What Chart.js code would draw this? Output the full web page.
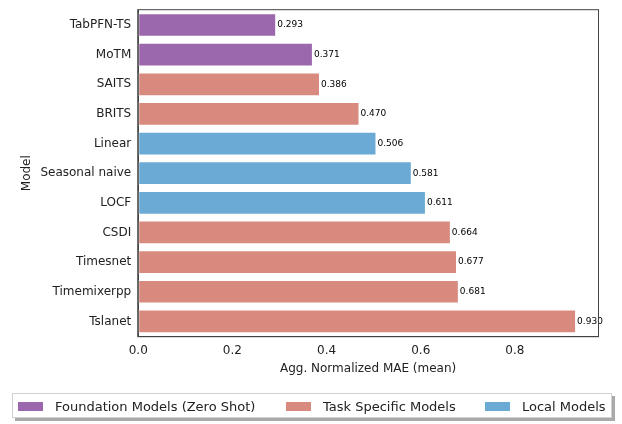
<!DOCTYPE html>
<html>
<head>
<meta charset="utf-8">
<script src="https://cdn.jsdelivr.net/npm/chart.js@4"></script>
<style>
  html, body { margin: 0; padding: 0; background: #fff; }
  #wrap { position: relative; width: 622px; height: 424px; }
  #legend {
    position: absolute; left: 12px; top: 393px; width: 598px; height: 23px;
    border: 1px solid #d0d0d0; background: #fff; box-shadow: 3px 3px 0 #aaa;
    display: flex; align-items: center;
    font-family: 'DejaVu Sans', sans-serif; font-size: 13px; color: #222;
  }
  #legend .item { display: flex; align-items: center; position: absolute; top: 5px; }
  #legend .box { width: 25px; height: 9px; margin-right: 12px; }
</style>
</head>
<body>
<div id="wrap">
  <canvas id="c" width="622" height="424"></canvas>
  <div id="legend"></div>
</div>
<script>
const models = ["TabPFN-TS","MoTM","SAITS","BRITS","Linear","Seasonal naive","LOCF","CSDI","Timesnet","Timemixerpp","Tslanet"]
const maeValues = [0.293,0.371,0.386,0.470,0.506,0.581,0.611,0.664,0.677,0.681,0.930]
const modelGroup = ["foundation","foundation","task","task","local","local","local","task","task","task","task"]
const groupNames = ["Foundation Models (Zero Shot)","Task Specific Models","Local Models"]
const groupKeys = ["foundation","task","local"]
const groupColors = ["#9b67ad","#d98a7f","#6baad5"]
const xTicks = [0,0.2,0.4,0.6,0.8]

const font = "'DejaVu Sans', sans-serif"

function groupData(key){
    return maeValues.map((v,i) => modelGroup[i] == key ? v : null)
}

const datasets = groupKeys.map((k,i) => ({
    label: groupNames[i],
    data: groupData(k),
    backgroundColor: groupColors[i],
    borderColor: "rgba(255,255,255,0.55)",
    borderWidth: 1,
    borderSkipped: false,
    barPercentage: 0.8,
    categoryPercentage: 1.0,
    grouped: false
}))

// value text at the end of each bar + full frame round plot
const extras = {
    id: "extras",
    afterDatasetsDraw(chart){
        const ctx = chart.ctx
        ctx.save()
        ctx.font = "9px " + font
        ctx.fillStyle = "#000"
        ctx.textBaseline = "middle"
        chart.data.datasets.forEach((ds,di) => {
            const meta = chart.getDatasetMeta(di)
            meta.data.forEach((bar,i) => {
                if(ds.data[i] == null) return
                ctx.fillText(ds.data[i].toFixed(3), bar.x + 1, bar.y)
            })
        })
        const a = chart.chartArea
        ctx.strokeStyle = "#444"
        ctx.lineWidth = 1
        ctx.strokeRect(a.left - 0.5, a.top - 0.5, a.right - a.left + 1, a.bottom - a.top + 1)
        ctx.restore()
    }
}

const chart = new Chart(document.getElementById("c"), {
    type: "bar",
    data: { labels: models, datasets: datasets },
    plugins: [extras],
    options: {
        indexAxis: "y",
        responsive: false,
        animation: false,
        layout: { padding: { left: 20, right: 24, top: 7, bottom: 48 } },
        scales: {
            x: {
                min: 0,
                max: 0.9765,
                afterBuildTicks: (axis) => { axis.ticks = xTicks.map(v => ({ value: v })) },
                grid: { display: false, drawTicks: true, tickLength: 4, tickColor: "#333" },
                border: { color: "#444" },
                ticks: { color: "#222", font: { family: font, size: 12 }, padding: 3,
                         callback: (v) => v.toFixed(1) },
                title: { display: true, text: "Agg. Normalized MAE (mean)", color: "#222",
                         font: { family: font, size: 12 }, padding: { top: 1, bottom: 0 } }
            },
            y: {
                grid: { display: false, drawTicks: true, tickLength: 4, tickColor: "#333" },
                border: { color: "#444" },
                ticks: { color: "#222", font: { family: font, size: 12 }, padding: 3 },
                title: { display: true, text: "Model", color: "#222",
                         font: { family: font, size: 12 }, padding: { top: 0, bottom: 3 } }
            }
        },
        plugins: {
            legend: { display: false },
            tooltip: { enabled: false }
        }
    }
});

// html legend built from the chart's datasets
const legendDiv = document.getElementById("legend")
const legendX = [5, 273, 472]
chart.data.datasets.forEach((ds,i) => {
    const item = document.createElement("div")
    item.className = "item"
    item.style.left = legendX[i] + "px"
    const box = document.createElement("span")
    box.className = "box"
    box.style.background = ds.backgroundColor
    const txt = document.createElement("span")
    txt.textContent = ds.label
    item.appendChild(box)
    item.appendChild(txt)
    legendDiv.appendChild(item)
})
</script>
</body>
</html>
